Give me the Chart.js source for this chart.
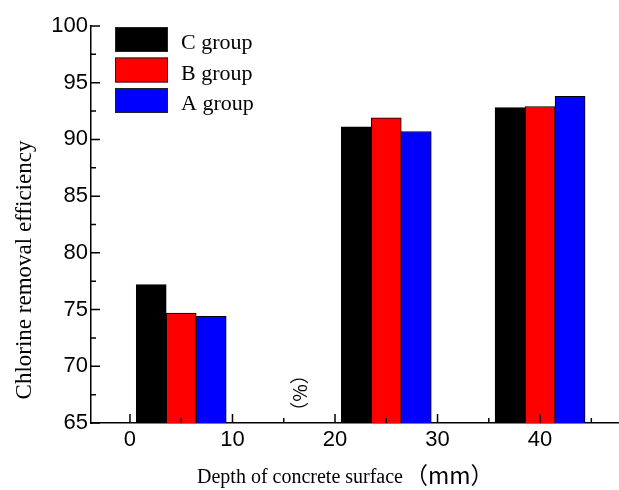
<!DOCTYPE html>
<html>
<head>
<meta charset="utf-8">
<script src="https://cdn.jsdelivr.net/npm/chart.js@4.4.1/dist/chart.umd.min.js"></script>
<style>
  html, body { margin: 0; padding: 0; background: #fff; }
  #wrap { width: 619px; height: 490px; position: relative; }
</style>
</head>
<body>
<div id="wrap"><canvas id="chart"></canvas></div>
<script>
// データ
const depths = [5, 25, 40];
const seriesNames = ['C group', 'B group', 'A group'];
const seriesColors = ['#000000', '#ff0000', '#0000ff'];
const groupC = [77.2, 91.1, 92.8];
const groupB = [74.7, 91.9, 92.9];
const groupA = [74.4, 90.7, 93.8];
const xMajorTicks = [0, 10, 20, 30, 40];
const xMinorTicks = [5, 15, 25, 35, 45];
const yMajorTicks = [65, 70, 75, 80, 85, 90, 95, 100];
const yMinorTicks = [67.5, 72.5, 77.5, 82.5, 87.5, 92.5, 97.5];
const xTitle = 'Depth of concrete surface';
const xUnit = '（mm）';
const yTitle = 'Chlorine removal efficiency';
const yUnit = '（%）';

const seriesValues = [groupC, groupB, groupA];
const datasets = seriesValues.map((vals, i) => ({
    label: seriesNames[i],
    data: vals.map((v, j) => ({ x: depths[j], y: v })),
    backgroundColor: seriesColors[i],
    borderColor: '#000',
    borderWidth: 1,
    barThickness: 30
}));

// 内向きの目盛り
const tickPlugin = {
    id: 'innerTicks',
    afterDatasetsDraw(chart) {
        const { ctx, chartArea: area, scales: { x, y } } = chart;
        ctx.save();
        ctx.strokeStyle = '#000';
        ctx.lineWidth = 1.5;
        ctx.beginPath();
        xMajorTicks.concat(xMinorTicks).forEach(v => {
            const len = xMajorTicks.includes(v) ? 9 : 5;
            const px = x.getPixelForValue(v);
            ctx.moveTo(px, area.bottom);
            ctx.lineTo(px, area.bottom - len);
        });
        yMajorTicks.concat(yMinorTicks).forEach(v => {
            const len = yMajorTicks.includes(v) ? 9 : 5;
            const py = y.getPixelForValue(v);
            ctx.moveTo(area.left, py);
            ctx.lineTo(area.left + len, py);
        });
        ctx.stroke();
        ctx.restore();
    }
};

// 凡例と軸タイトル
const decorPlugin = {
    id: 'decor',
    afterDraw(chart) {
        const ctx = chart.ctx;
        ctx.save();
        ctx.fillStyle = '#000';

        // 凡例
        chart.data.datasets.forEach((ds, i) => {
            const top = 27 + i * 30.5;
            ctx.fillStyle = ds.backgroundColor;
            ctx.fillRect(115, top, 53, 25);
            ctx.strokeStyle = '#222';
            ctx.lineWidth = 1;
            ctx.strokeRect(115.5, top + 0.5, 52, 24);
            ctx.fillStyle = '#000';
            ctx.font = '22px "Liberation Serif"';
            ctx.textBaseline = 'alphabetic';
            ctx.textAlign = 'left';
            ctx.fillText(ds.label, 181, top + 22);
        });

        // x軸タイトル
        ctx.font = '20px "Liberation Serif"';
        ctx.textAlign = 'left';
        ctx.textBaseline = 'alphabetic';
        ctx.fillText(xTitle, 197, 483);
        const w = ctx.measureText(xTitle).width;
        ctx.font = '23px "Noto Sans CJK SC"';
        ctx.fillText(xUnit, 199 + w, 484);

        // y軸タイトル
        ctx.save();
        ctx.translate(25, 270);
        ctx.rotate(-Math.PI / 2);
        ctx.font = '23px "Liberation Serif"';
        ctx.textAlign = 'center';
        ctx.textBaseline = 'middle';
        ctx.fillText(yTitle, 0, 0);
        ctx.restore();

        // はみ出した単位
        ctx.save();
        ctx.translate(300, 393);
        ctx.rotate(-Math.PI / 2);
        ctx.font = '19px "Noto Sans CJK SC"';
        ctx.textAlign = 'center';
        ctx.textBaseline = 'middle';
        ctx.fillText(yUnit, 0, 0);
        ctx.restore();

        ctx.restore();
    }
};

new Chart(document.getElementById('chart'), {
    type: 'bar',
    data: { datasets },
    options: {
        responsive: true,
        maintainAspectRatio: false,
        animation: false,
        layout: { padding: { top: 26, right: 0, left: 0, bottom: 0 } },
        plugins: {
            legend: { display: false },
            tooltip: { enabled: false }
        },
        scales: {
            x: {
                type: 'linear',
                min: -3.8,
                max: 47.7,
                offset: false,
                grid: { display: false, drawTicks: false },
                border: { display: true, color: '#000', width: 1.5 },
                ticks: { color: '#000', font: { family: 'Liberation Sans', size: 22 }, padding: 4 },
                afterBuildTicks: s => { s.ticks = xMajorTicks.map(v => ({ value: v })); },
                afterFit: s => { s.height = 67; }
            },
            y: {
                min: 65,
                max: 100,
                grid: { display: false, drawTicks: false },
                border: { display: true, color: '#000', width: 1.5 },
                ticks: { color: '#000', font: { family: 'Liberation Sans', size: 22 }, padding: 3 },
                afterBuildTicks: s => { s.ticks = yMajorTicks.map(v => ({ value: v })); },
                afterFit: s => { s.width = 91; }
            }
        }
    },
    plugins: [tickPlugin, decorPlugin]
});
</script>
</body>
</html>
